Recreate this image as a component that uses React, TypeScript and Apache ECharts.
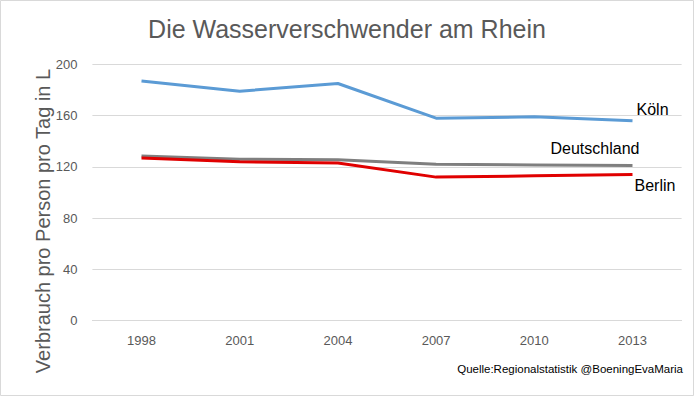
import React, { useEffect, useRef } from "react";
import * as echarts from "echarts";

const years = ["1998", "2001", "2004", "2007", "2010", "2013"];
const koeln = [187, 179, 185, 158, 159, 156];
const deutschland = [128.5, 126, 125.5, 122, 121.5, 121];
const berlin = [127, 124, 123, 112, 113, 114];
const yTicks = { min: 0, max: 200, interval: 40 };
const titleText = "Die Wasserverschwender am Rhein";
const yName = "Verbrauch pro Person pro Tag in L";
const sourceText = "Quelle:Regionalstatistik @BoeningEvaMaria";

const FONT = "'Liberation Sans', Arial, sans-serif";

export default function App() {
  const ref = useRef<HTMLDivElement>(null);
  useEffect(() => {
    if (!ref.current) return;
    const chart = echarts.init(ref.current, null, { renderer: "svg" });
    const endLabel = (text: string, offset: number[]) => ({
      show: true,
      formatter: text,
      position: "right",
      distance: 4,
      offset,
      color: "#000",
      fontSize: 16,
      fontFamily: FONT,
    });
    chart.setOption({
      animation: false,
      backgroundColor: "#fff",
      textStyle: { fontFamily: FONT },
      title: {
        text: titleText,
        left: "center",
        top: 11,
        textStyle: { fontSize: 25, fontWeight: "normal", color: "#595959", fontFamily: FONT },
      },
      grid: { left: 92.4, right: 12.4, top: 64.3, bottom: 75.3, containLabel: false },
      xAxis: {
        type: "category",
        data: years,
        boundaryGap: true,
        axisLine: { show: true, lineStyle: { color: "#d9d9d9", width: 1 } },
        axisTick: { show: false },
        axisLabel: { color: "#595959", fontSize: 13, margin: 13, fontFamily: FONT },
      },
      yAxis: {
        type: "value",
        min: yTicks.min,
        max: yTicks.max,
        interval: yTicks.interval,
        axisLine: { show: false },
        axisTick: { show: false },
        axisLabel: { color: "#595959", fontSize: 13, margin: 15, fontFamily: FONT },
        splitLine: { lineStyle: { color: "#d9d9d9", width: 1 } },
      },
      graphic: [
        {
          type: "rect",
          shape: { x: 0.5, y: 0.5, width: 693, height: 395 },
          style: { fill: "none", stroke: "#d9d9d9", lineWidth: 1 },
          silent: true,
        },
        {
          type: "text",
          x: 43,
          y: 221,
          rotation: Math.PI / 2,
          style: {
            text: yName,
            fontSize: 20,
            fill: "#595959",
            fontFamily: FONT,
            align: "center",
            verticalAlign: "middle",
          },
        },
        {
          type: "text",
          right: 11,
          top: 363,
          style: {
            text: sourceText,
            fontSize: 11.5,
            fill: "#000",
            fontFamily: FONT,
          },
        },
      ],
      series: [
        {
          name: "Köln",
          type: "line",
          data: koeln,
          symbol: "none",
          lineStyle: { color: "#5B9BD5", width: 3 },
          itemStyle: { color: "#5B9BD5" },
          endLabel: endLabel("Köln", [0, -11]),
        },
        {
          name: "Deutschland",
          type: "line",
          data: deutschland,
          symbol: "none",
          lineStyle: { color: "#7F7F7F", width: 3 },
          itemStyle: { color: "#7F7F7F" },
          endLabel: endLabel("Deutschland", [-86, -17]),
        },
        {
          name: "Berlin",
          type: "line",
          data: berlin,
          symbol: "none",
          lineStyle: { color: "#E00000", width: 3 },
          itemStyle: { color: "#E00000" },
          endLabel: endLabel("Berlin", [-2, 11]),
        },
      ],
    });
    return () => chart.dispose();
  }, []);
  return (
    <div
      ref={ref}
      style={{ position: "absolute", left: 0, top: 0, width: 694, height: 396 }}
    />
  );
}
